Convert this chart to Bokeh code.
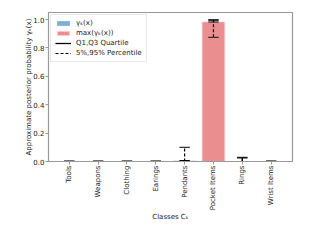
import math
from bokeh.plotting import figure
from bokeh.models import ColumnDataSource, FixedTicker, PrintfTickFormatter, Range1d
from bokeh.embed import file_html
from bokeh.resources import INLINE

classes = ["Tools", "Weapons", "Clothing", "Earings", "Pendants", "Pocket Items", "Rings", "Wrist Items"]
gamma = [0.002, 0.002, 0.002, 0.002, 0.006, 0.985, 0.004, 0.002]
q1 = [0.0, 0.0, 0.0, 0.0, 0.0, 0.983, 0.0, 0.0]
q3 = [0.001, 0.001, 0.001, 0.001, 0.007, 0.996, 0.025, 0.001]
p5 = [0.0, 0.0, 0.0, 0.0, 0.0, 0.875, 0.0, 0.0]
p95 = [0.002, 0.002, 0.002, 0.002, 0.10, 0.999, 0.03, 0.002]
yticks = [0.0, 0.2, 0.4, 0.6, 0.8, 1.0]

FONT = "DejaVu Sans"
GRAY = "#9a9a9a"
xs = list(range(len(classes)))
imax = max(range(len(gamma)), key=lambda i: gamma[i])
cap = 0.18

src = ColumnDataSource(dict(
    x=xs, g=gamma, q1=q1, q3=q3, p5=p5, p95=p95,
    xl=[x - cap for x in xs], xr=[x + cap for x in xs],
))
others = [i for i in xs if i != imax]
bsrc = ColumnDataSource(dict(x=others, g=[gamma[i] for i in others]))
msrc = ColumnDataSource(dict(x=[xs[imax]], g=[gamma[imax]]))

p = figure(width=304, height=224, output_backend="svg", toolbar_location=None,
           x_range=Range1d(-0.72, 7.74), y_range=Range1d(0, 1.05),
           min_border_left=48, min_border_top=12, min_border_right=12, min_border_bottom=56)
p.grid.visible = False
p.outline_line_color = GRAY
p.outline_line_width = 1.2

p.vbar(x="x", top="g", width=0.8, source=bsrc, fill_color="#1f77b4", fill_alpha=0.58,
       line_color=None, legend_label="γₖ(x)")
p.vbar(x="x", top="g", width=0.8, source=msrc, fill_color="#d62728", fill_alpha=0.52,
       line_color="#fbe9e9", line_width=1, legend_label="max(γₖ(x))")

p.segment(x0="x", y0="q1", x1="x", y1="q3", source=src, line_color="black", line_width=1.3,
          legend_label="Q1,Q3 Quartile")
p.segment(x0="x", y0="p5", x1="x", y1="p95", source=src, line_color="black", line_width=1.2,
          line_dash="3 2", legend_label="5%,95% Percentile")
for col, c in (("p5", "#333333"), ("p95", "#333333"), ("q1", "black"), ("q3", "black")):
    p.segment(x0="xl", y0=col, x1="xr", y1=col, source=src, line_color=c, line_width=1.2)

p.xaxis.ticker = FixedTicker(ticks=xs)
p.xaxis.major_label_overrides = {i: c for i, c in enumerate(classes)}
p.xaxis.major_label_orientation = math.pi / 2
p.yaxis.ticker = FixedTicker(ticks=yticks)
p.yaxis.formatter = PrintfTickFormatter(format="%.1f")

for ax in (p.xaxis, p.yaxis):
    ax.axis_line_color = GRAY
    ax.major_tick_line_color = GRAY
    ax.minor_tick_line_color = None
    ax.major_tick_in = 0
    ax.major_tick_out = 3
    ax.major_label_text_font = FONT
    ax.major_label_text_font_size = "7px"
    ax.major_label_text_color = "#222222"
    ax.axis_label_text_font = FONT
    ax.axis_label_text_font_size = "7px"
    ax.axis_label_text_font_style = "normal"
    ax.axis_label_text_color = "#222222"

p.xaxis.axis_label = "Classes Cₖ"
p.yaxis.axis_label = "Approximate posterior probability γₖ(x)"
p.xaxis.major_label_standoff = 1
p.xaxis.axis_label_standoff = 0
p.yaxis.major_label_standoff = 1
p.yaxis.axis_label_standoff = -3

lg = p.legend[0]
lg.location = "top_left"
lg.label_text_font = FONT
lg.label_text_font_size = "7px"
lg.label_text_color = "#222222"
lg.glyph_width = 16
lg.glyph_height = 6
lg.label_height = 6
lg.spacing = 2
lg.padding = 4
lg.margin = 2
lg.label_standoff = 5
lg.border_line_color = "#d0d0d0"
lg.background_fill_alpha = 0.85

open("out.html", "w").write(file_html(p, INLINE))
